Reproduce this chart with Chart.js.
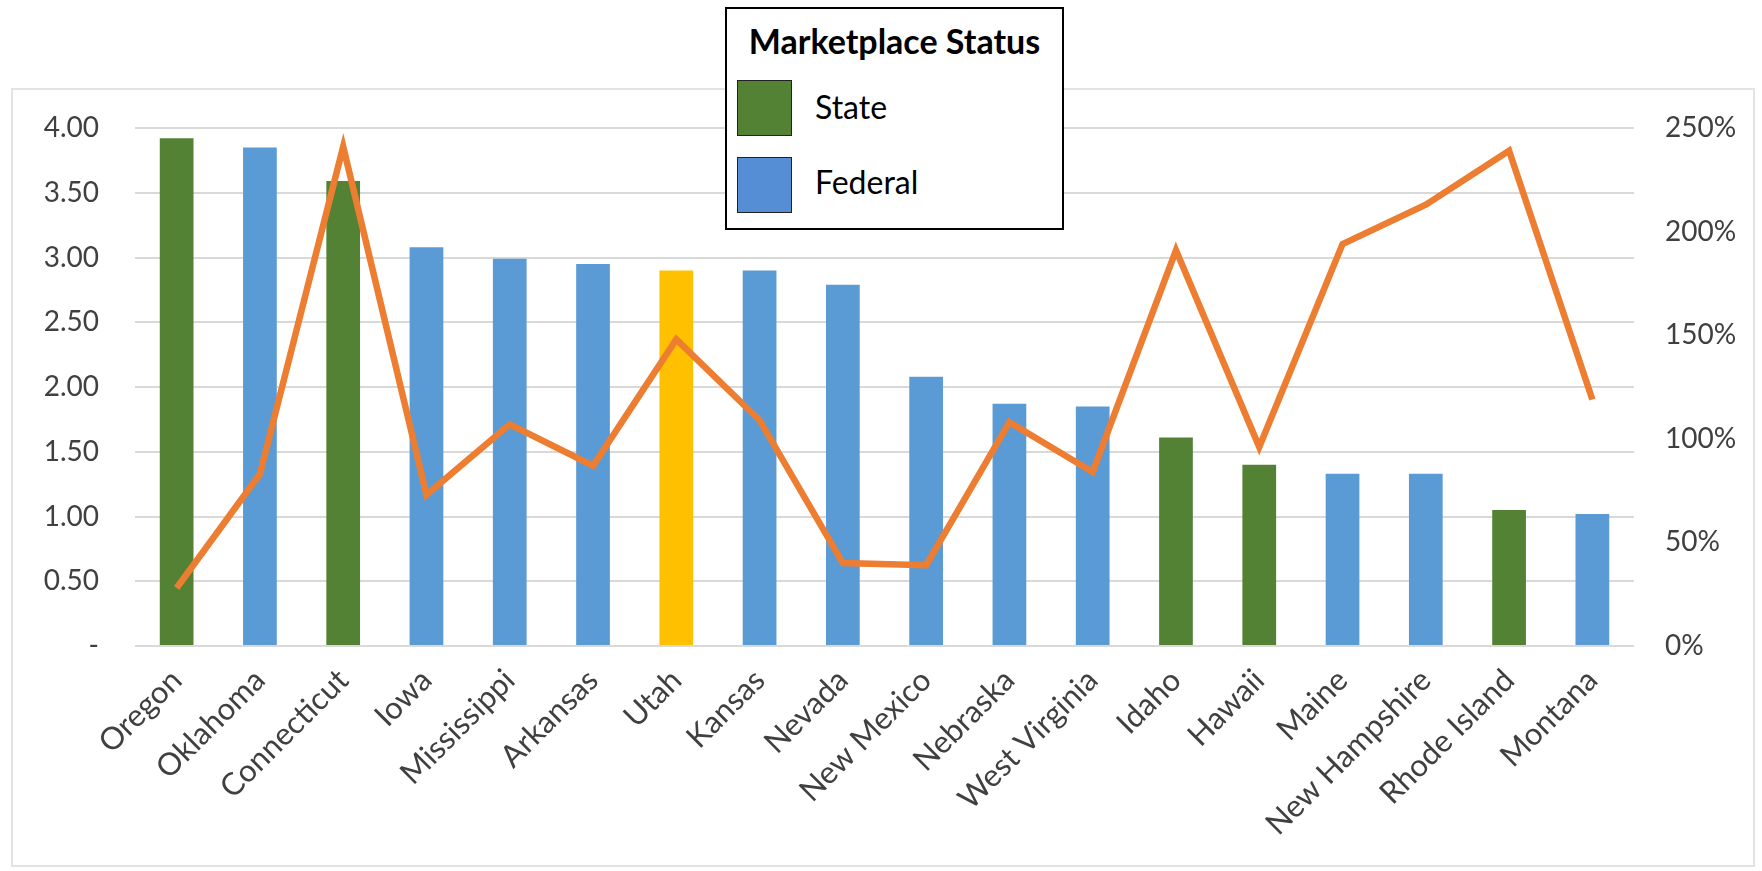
<!DOCTYPE html>
<html>
<head>
<meta charset="utf-8">
<script src="https://cdn.jsdelivr.net/npm/chart.js@4"></script>
<style>
    html, body { margin: 0; padding: 0; background: #fff; }
    body { width: 1762px; height: 871px; position: relative; overflow: hidden; font-family: Lato, "Open Sans", sans-serif; }
    #frame { position: absolute; left: 11px; top: 88px; width: 1740px; height: 775px; border: 2px solid #e3e3e3; }
    #ratioChart { position: absolute; left: 0; top: 0; }
    #legendBox { position: absolute; left: 725px; top: 7px; width: 335px; height: 219px; border: 2px solid #000; background: #fff; }
    #legendBox .title { position: absolute; left: 0; width: 100%; top: 15px; text-align: center; font-weight: bold; font-size: 34px; line-height: 34px; color: #000; }
    #legendBox .swatch { position: absolute; left: 10px; width: 53px; height: 54px; border: 1px solid #222; }
    #legendBox .label { position: absolute; left: 88px; font-size: 32px; line-height: 32px; color: #000; }
</style>
</head>
<body>
<div id="frame"></div>
<canvas id="ratioChart" width="1762" height="871"></canvas>
<div id="legendBox">
    <div class="title">Marketplace Status</div>
    <div class="swatch" style="top: 71px; background: #548235;"></div>
    <div class="label" style="top: 82px;">State</div>
    <div class="swatch" style="top: 148px; background: #558ed5;"></div>
    <div class="label" style="top: 157px;">Federal</div>
</div>
<script>
// dados
const states = ['Oregon', 'Oklahoma', 'Connecticut', 'Iowa', 'Mississippi', 'Arkansas', 'Utah', 'Kansas', 'Nevada',
    'New Mexico', 'Nebraska', 'West Virginia', 'Idaho', 'Hawaii', 'Maine', 'New Hampshire', 'Rhode Island', 'Montana'];
const barValues = [3.92, 3.85, 3.59, 3.08, 2.99, 2.95, 2.90, 2.90, 2.79, 2.08, 1.87, 1.85, 1.61, 1.40, 1.33, 1.33, 1.05, 1.02];
const linePercents = [28, 83, 241, 73, 107, 87, 148, 109, 40, 39, 108, 84, 191, 96, 194, 213, 239, 119];
const marketplace = ['State', 'Federal', 'State', 'Federal', 'Federal', 'Federal', 'Other', 'Federal', 'Federal',
    'Federal', 'Federal', 'Federal', 'State', 'State', 'Federal', 'Federal', 'State', 'Federal'];
const leftTicks = [0, 0.5, 1, 1.5, 2, 2.5, 3, 3.5, 4];
const rightTicks = [0, 50, 100, 150, 200, 250];

const statusColors = { State: '#548235', Federal: '#5b9bd5', Other: '#ffc000' };

document.addEventListener('DOMContentLoaded', function () {
    const ctx = document.getElementById('ratioChart').getContext('2d');
    const tickFont = { family: 'Lato', size: 28 };

    new Chart(ctx, {
        data: {
            labels: states,
            datasets: [{
                type: 'line',
                data: linePercents,
                yAxisID: 'y1',
                borderColor: '#ed7d31',
                borderWidth: 6.5,
                pointRadius: 0,
                tension: 0,
                order: 0
            }, {
                type: 'bar',
                data: barValues,
                yAxisID: 'y',
                backgroundColor: marketplace.map(s => statusColors[s]),
                categoryPercentage: 1,
                barPercentage: 0.405,
                order: 1
            }]
        },
        options: {
            responsive: false,
            animation: false,
            layout: { padding: { top: 128 } },
            plugins: { legend: { display: false }, tooltip: { enabled: false } },
            scales: {
                x: {
                    grid: { display: false },
                    border: { display: false },
                    ticks: { font: { family: 'Lato', size: 31 }, color: '#404040', minRotation: 45, maxRotation: 45, padding: 8 },
                    afterFit: function (scale) { scale.height = 225; }
                },
                y: {
                    position: 'left',
                    min: 0, max: 4,
                    afterBuildTicks: function (scale) { scale.ticks = leftTicks.map(v => ({ value: v })); },
                    grid: { color: '#d9d9d9', lineWidth: 2, drawTicks: false },
                    border: { display: false },
                    ticks: {
                        font: tickFont, color: '#404040', padding: 36,
                        callback: v => v === 0 ? '-' : v.toFixed(2)
                    },
                    afterFit: function (scale) { scale.width = 135; }
                },
                y1: {
                    position: 'right',
                    min: 0, max: 250,
                    afterBuildTicks: function (scale) { scale.ticks = rightTicks.map(v => ({ value: v })); },
                    grid: { display: false },
                    border: { display: false },
                    ticks: { font: tickFont, color: '#404040', padding: 23, callback: v => v + '%' },
                    afterFit: function (scale) { scale.width = 128; }
                }
            }
        }
    });
});
</script>
</body>
</html>
